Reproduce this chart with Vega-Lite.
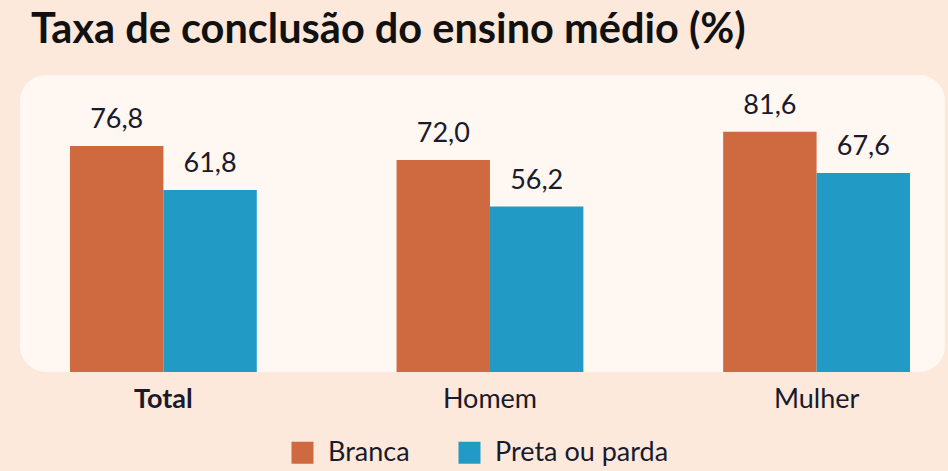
{
  "$schema": "https://vega.github.io/schema/vega-lite/v6.json",
  "autosize": "none",
  "width": 925,
  "height": 297,
  "padding": {"left": 20, "top": 75, "right": 3, "bottom": 99},
  "background": "#fce9dc",
  "title": {
    "text": "Taxa de conclusão do ensino médio (%)",
    "anchor": "start",
    "frame": "group",
    "dx": 11,
    "dy": 40,
    "baseline": "bottom",
    "offset": 22,
    "font": "Lato",
    "fontSize": 41.5,
    "fontWeight": "bold",
    "color": "#111111"
  },
  "data": {
    "values": [
      {"grupo": "Total", "raca": "Branca", "valor": 76.8},
      {"grupo": "Total", "raca": "Preta ou parda", "valor": 61.8},
      {"grupo": "Homem", "raca": "Branca", "valor": 72.0},
      {"grupo": "Homem", "raca": "Preta ou parda", "valor": 56.2},
      {"grupo": "Mulher", "raca": "Branca", "valor": 81.6},
      {"grupo": "Mulher", "raca": "Preta ou parda", "valor": 67.6}
    ]
  },
  "encoding": {
    "x": {
      "field": "grupo",
      "type": "nominal",
      "sort": ["Total", "Homem", "Mulher"],
      "scale": {"paddingInner": 0.428, "paddingOuter": 0.1301, "align": 0.588},
      "axis": {
        "title": null,
        "domain": false,
        "ticks": false,
        "labelAngle": 0,
        "labelFont": "Lato",
        "labelFontSize": 27,
        "labelColor": "#1a1a2a",
        "labelPadding": 14,
        "labelFontWeight": {"expr": "datum.value == 'Total' ? 'bold' : 'normal'"}
      }
    },
    "xOffset": {
      "field": "raca",
      "type": "nominal",
      "scale": {"domain": ["Branca", "Preta ou parda"], "paddingInner": 0, "paddingOuter": 0}
    },
    "y": {
      "field": "valor",
      "type": "quantitative",
      "scale": {"domain": [0, 100.9], "nice": false, "zero": true},
      "axis": null
    }
  },
  "layer": [
    {
      "mark": {"type": "bar"},
      "encoding": {
        "color": {
          "field": "raca",
          "type": "nominal",
          "scale": {"domain": ["Branca", "Preta ou parda"], "range": ["#cf6a40", "#229ac6"]},
          "legend": {
            "title": null,
            "orient": "none",
            "direction": "horizontal",
            "legendX": 269,
            "legendY": 364,
            "symbolType": "square",
            "symbolSize": 484,
            "symbolStrokeWidth": 0,
            "labelFont": "Lato",
            "labelFontSize": 27,
            "labelColor": "#1a1a2a",
            "labelOffset": 12,
            "labelLimit": 400,
            "columnPadding": 46
          }
        }
      }
    },
    {
      "mark": {
        "type": "text",
        "baseline": "alphabetic",
        "align": "center",
        "dy": -18,
        "font": "Lato",
        "fontSize": 27,
        "color": "#1a1a2a"
      },
      "encoding": {
        "text": {"field": "valor", "type": "quantitative", "format": ".1f"}
      }
    }
  ],
  "config": {
    "locale": {
      "number": {"decimal": ",", "thousands": ".", "grouping": [3], "currency": ["R$ ", ""]}
    },
    "view": {"fill": "#fef7f2", "stroke": null, "cornerRadius": 26}
  }
}
